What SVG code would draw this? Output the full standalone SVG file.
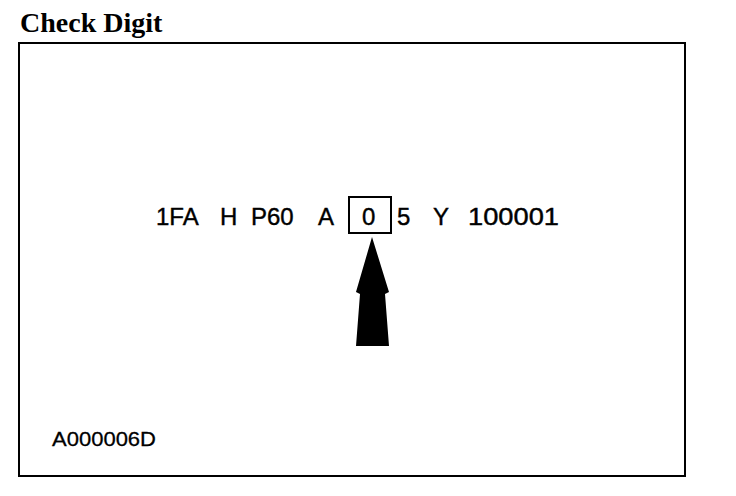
<svg xmlns="http://www.w3.org/2000/svg" width="736" height="496" viewBox="0 0 736 496">
<style>
.t{font-family:"Liberation Sans",Arial,sans-serif;font-size:24px;fill:#000;stroke:#000;stroke-width:0.4}
.ttl{font-family:"Liberation Serif","Times New Roman",serif;font-weight:bold;font-size:28px;fill:#000}
.s{font-family:"Liberation Sans",Arial,sans-serif;font-size:21px;fill:#000;stroke:#000;stroke-width:0.3}
</style>
<rect width="736" height="496" fill="#fff"/>
<text class="ttl" x="20" y="32">Check Digit</text>
<rect id="frame" x="19" y="43" width="666" height="433" fill="none" stroke="#000" stroke-width="2"/>
<g id="vin">
<text class="t" x="156" y="225">1FA</text>
<text class="t" x="220" y="225">H</text>
<text class="t" x="251" y="225">P60</text>
<text class="t" x="318" y="225">A</text>
<text class="t" x="362" y="225">0</text>
<text class="t" x="397" y="225">5</text>
<text class="t" x="433" y="225">Y</text>
<text class="t" x="468" y="225" textLength="91" lengthAdjust="spacingAndGlyphs">100001</text>
</g>
<g id="box"><rect x="349" y="197" width="42" height="36" fill="none" stroke="#000" stroke-width="2"/></g>
<g id="arrow"><polygon points="372,237 389,292 385,294 389,346 356,346 360,294 356,292" fill="#000"/></g>
<text class="s" x="52" y="446" textLength="104" lengthAdjust="spacingAndGlyphs">A000006D</text>
</svg>
